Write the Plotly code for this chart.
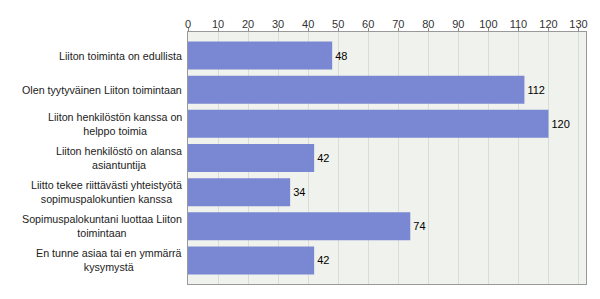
import plotly.graph_objects as go

categories = [
    "Liiton toiminta on edullista",
    "Olen tyytyväinen Liiton toimintaan",
    "Liiton henkilöstön kanssa on<br>helppo toimia",
    "Liiton henkilöstö on alansa<br>asiantuntija",
    "Liitto tekee riittävästi yhteistyötä<br>sopimuspalokuntien kanssa",
    "Sopimuspalokuntani luottaa Liiton<br>toimintaan",
    "En tunne asiaa tai en ymmärrä<br>kysymystä",
]
values = [48, 112, 120, 42, 34, 74, 42]
tick_vals = list(range(0, 131, 10))

FONT = "Liberation Sans, Arial, sans-serif"

fig = go.Figure(go.Bar(
    x=values,
    y=categories,
    orientation="h",
    width=0.82,
    marker=dict(color="#7a87d2", line=dict(width=0)),
    text=[str(v) for v in values],
    textposition="outside",
    textfont=dict(family=FONT, size=11, color="#000000"),
    cliponaxis=False,
))

for c in categories:
    fig.add_annotation(
        x=0, xref="paper", y=c, yref="y",
        text=c, showarrow=False,
        xanchor="right", yanchor="middle", align="center",
        xshift=-4,
        font=dict(family=FONT, size=10.7, color="#222222"),
    )

fig.update_layout(
    width=600, height=299,
    margin=dict(l=188, r=14, t=32, b=15),
    paper_bgcolor="#ffffff",
    plot_bgcolor="#f0f2ed",
    showlegend=False,
    font=dict(family=FONT, size=11, color="#222222"),
    xaxis=dict(
        side="top",
        range=[0, 132.5],
        tickvals=tick_vals,
        ticks="outside", ticklen=3, tickcolor="#888888",
        ticklabelstandoff=-4,
        showgrid=True, gridcolor="#dadcd7", gridwidth=1,
        showline=True, linecolor="#999999", linewidth=1, mirror=True,
        zeroline=False,
        tickfont=dict(size=11, color="#333333"),
        fixedrange=True,
    ),
    yaxis=dict(
        autorange=False,
        range=[6.69, -0.69],
        categoryorder="array", categoryarray=categories,
        showgrid=False, showticklabels=False,
        showline=True, linecolor="#999999", linewidth=1, mirror=True,
        ticks="",
        fixedrange=True,
    ),
)

fig.write_html("out.html")
